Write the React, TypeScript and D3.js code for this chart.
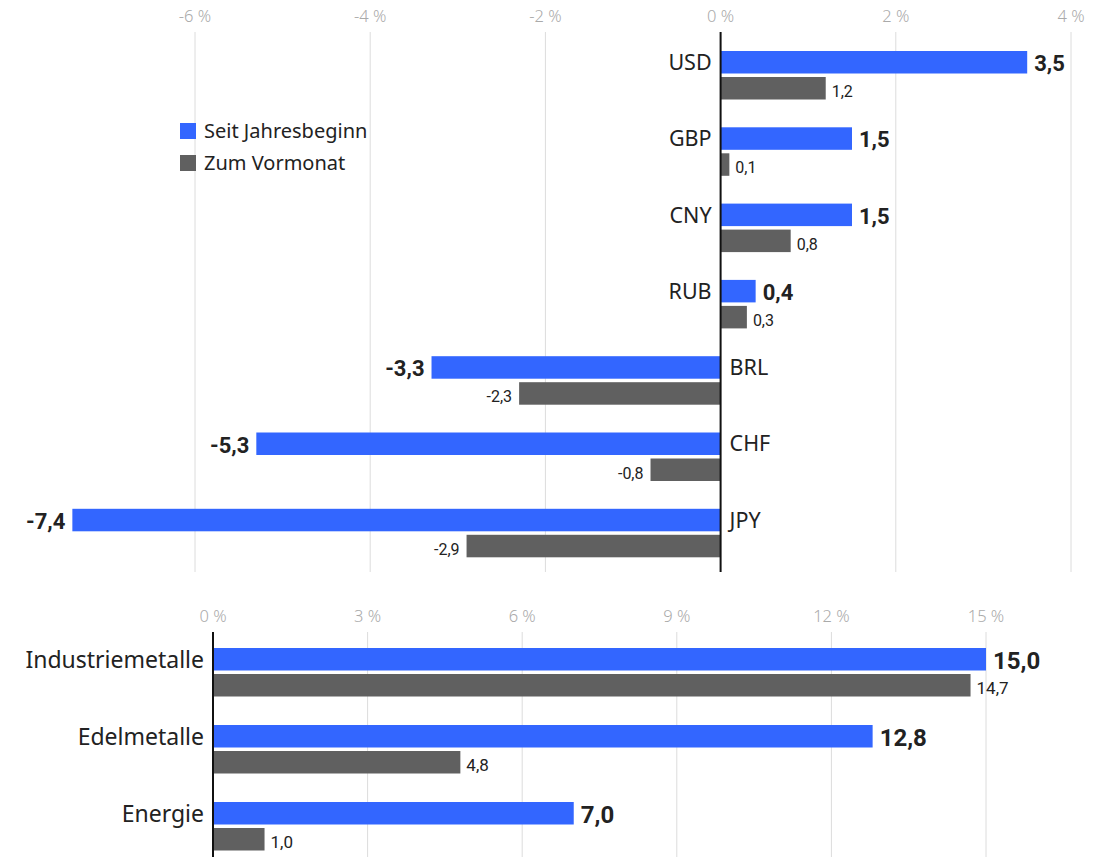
import * as d3 from "d3";

const currencies = ["USD", "GBP", "CNY", "RUB", "BRL", "CHF", "JPY"];
const currencyYtd = [3.5, 1.5, 1.5, 0.4, -3.3, -5.3, -7.4];
const currencyMonth = [1.2, 0.1, 0.8, 0.3, -2.3, -0.8, -2.9];
const currencyTicks = [-6, -4, -2, 0, 2, 4];

const commodities = ["Industriemetalle", "Edelmetalle", "Energie"];
const commodityYtd = [15.0, 12.8, 7.0];
const commodityMonth = [14.7, 4.8, 1.0];
const commodityTicks = [0, 3, 6, 9, 12, 15];

const seriesNames = ["Seit Jahresbeginn", "Zum Vormonat"];

const BLUE = "#3366ff";
const GRAY = "#606060";
const TEXT = "#222";
const LABEL_FONT = "'Noto Sans', 'Open Sans', sans-serif";
const NUM_FONT = "'Liberation Sans Narrow', 'Roboto', sans-serif";

const fmt = (v: number) => v.toFixed(1).replace(".", ",");

function Panel({
  cats,
  ytd,
  month,
  ticks,
  x,
  yTop,
  step,
  gridTop,
  gridBottom,
  tickY,
  catSize,
  bigSize,
  smallSize,
}: {
  cats: string[];
  ytd: number[];
  month: number[];
  ticks: number[];
  x: d3.ScaleLinear<number, number>;
  yTop: number;
  step: number;
  gridTop: number;
  gridBottom: number;
  tickY: number;
  catSize: number;
  bigSize: number;
  smallSize: number;
}) {
  const y = d3
    .scaleBand<string>()
    .domain(cats)
    .range([yTop, yTop + step * cats.length])
    .padding(0);
  const barH = 22.5;
  const x0 = x(0);

  return (
    <g>
      {ticks.map((t) => (
        <g key={t}>
          <line x1={x(t)} x2={x(t)} y1={gridTop} y2={gridBottom} stroke="#dcdcdc" strokeWidth={1} />
          <text
            x={x(t)}
            y={tickY}
            textAnchor="middle"
            fontFamily={LABEL_FONT}
            fontSize={16.5}
            fontWeight={300}
            fill="#aaa"
          >
            {`${t} %`}
          </text>
        </g>
      ))}
      {cats.map((c, i) => {
        const by = y(c) as number;
        const v1 = ytd[i];
        const v2 = month[i];
        const neg = v1 < 0;
        const cy = by + barH / 2;
        return (
          <g key={c}>
            <rect
              x={Math.min(x(v1), x0)}
              y={by}
              width={Math.abs(x(v1) - x0)}
              height={barH}
              fill={BLUE}
            />
            <rect
              x={Math.min(x(v2), x0)}
              y={by + 26}
              width={Math.abs(x(v2) - x0)}
              height={barH}
              fill={GRAY}
            />
            <text
              x={neg ? x0 + 9 : x0 - 9}
              y={cy}
              dy="0.36em"
              textAnchor={neg ? "start" : "end"}
              fontFamily={LABEL_FONT}
              fontSize={catSize}
              fill={TEXT}
            >
              {c}
            </text>
            <text
              x={neg ? x(v1) - 7 : x(v1) + 7}
              y={cy + 1}
              dy="0.36em"
              textAnchor={neg ? "end" : "start"}
              fontFamily={NUM_FONT}
              fontWeight="bold"
              fontSize={bigSize}
              fill={TEXT}
            >
              {fmt(v1)}
            </text>
            <text
              x={v2 < 0 ? x(v2) - 7 : x(v2) + 6}
              y={by + 26 + barH / 2 + 3}
              dy="0.36em"
              textAnchor={v2 < 0 ? "end" : "start"}
              fontFamily={NUM_FONT}
              fontSize={smallSize}
              fill={TEXT}
            >
              {fmt(v2)}
            </text>
          </g>
        );
      })}
      <line x1={x0} x2={x0} y1={gridTop} y2={gridBottom} stroke="#111" strokeWidth={2} />
    </g>
  );
}

export default function App() {
  const xTop = d3.scaleLinear().domain([-6, 4]).range([195, 1071]);
  const xBottom = d3.scaleLinear().domain([0, 15]).range([213, 986]);
  const legendColors = [BLUE, GRAY];

  return (
    <svg
      width={1099}
      height={857}
      style={{ position: "absolute", left: 0, top: 0, background: "#fff" }}
    >
      <Panel
        cats={currencies}
        ytd={currencyYtd}
        month={currencyMonth}
        ticks={currencyTicks}
        x={xTop}
        yTop={51}
        step={76.3}
        gridTop={32}
        gridBottom={572}
        tickY={22}
        catSize={21.5}
        bigSize={22}
        smallSize={16}
      />
      <Panel
        cats={commodities}
        ytd={commodityYtd}
        month={commodityMonth}
        ticks={commodityTicks}
        x={xBottom}
        yTop={648}
        step={77}
        gridTop={632}
        gridBottom={857}
        tickY={622}
        catSize={23}
        bigSize={24}
        smallSize={17}
      />
      {seriesNames.map((s, i) => (
        <g key={s} transform={`translate(180,${123 + i * 32})`}>
          <rect width={16} height={16} fill={legendColors[i]} />
          <text x={24} y={8} dy="0.36em" fontFamily={LABEL_FONT} fontSize={20} fill={TEXT}>
            {s}
          </text>
        </g>
      ))}
    </svg>
  );
}
